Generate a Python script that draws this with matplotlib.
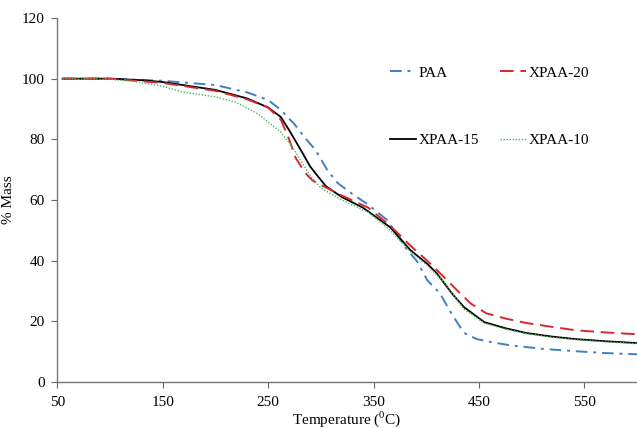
import matplotlib
matplotlib.use('Agg')
from matplotlib import pyplot as plt

plt.rcParams['font.family'] = ['Liberation Serif', 'DejaVu Serif']
plt.rcParams['mathtext.fontset'] = 'custom'
plt.rcParams['mathtext.rm'] = 'Liberation Serif'

# temperature (C) vs % mass
paa_x = [55, 100, 150, 200, 230, 250, 262, 275, 285, 295, 306, 316, 330, 345, 363,
         382, 391, 401, 413, 425, 436, 448, 465, 479, 510, 542, 570, 600]
paa_y = [100, 100, 99.3, 97.9, 95.5, 93, 89.7, 85, 80.5, 76.5, 70, 65.6, 62, 58.5, 53.4,
         43.5, 40, 33.6, 29.3, 22, 16.2, 14.2, 13, 12.2, 11, 10.2, 9.6, 9.2]

x20_x = [55, 100, 150, 200, 230, 250, 262, 270, 276, 285, 292, 300, 320, 345, 366,
         385, 401, 417, 430, 442, 457, 475, 495, 520, 542, 570, 600]
x20_y = [100, 100, 98.6, 96, 93.2, 90.5, 86.5, 80, 74, 69, 66.5, 65, 61.5, 57.5, 51.5,
         45, 40, 34.6, 30, 26, 22.7, 21, 19.5, 18.2, 17.1, 16.4, 15.8]

x15_x = [55, 100, 130, 150, 200, 230, 250, 262, 270, 281, 290, 298, 305, 320, 340, 366,
         385, 401, 410, 425, 436, 455, 475, 495, 520, 542, 570, 600]
x15_y = [100, 100, 99.5, 98.9, 96.3, 93.5, 90.5, 87.4, 83, 76.5, 71, 67.5, 64.5, 61, 57.5, 51,
         43.5, 39, 35.9, 29, 24.7, 19.8, 17.8, 16.2, 15, 14.2, 13.5, 12.9]

x10_x = [55, 100, 121, 150, 168, 200, 219, 240, 262, 272, 281, 290, 300, 320, 345, 366,
         385, 401, 417, 436, 455, 475, 495, 520, 542, 570, 600]
x10_y = [100, 99.8, 99.2, 97.5, 95.7, 94, 92.3, 88.5, 82.4, 78, 73, 68, 64, 60, 56, 50,
         43, 38.5, 33, 24, 19.5, 17.5, 16, 14.8, 14, 13.3, 12.7]

fig = plt.figure(figsize=(6.37, 4.28), dpi=100)
ax = fig.add_axes([0.09, 0.107, 0.91, 0.851])

# plot order chosen so the 2-col legend reads PAA / XPAA-20 on top row
ax.plot(paa_x, paa_y, color='#3f7fc4', lw=1.4, ls=(0, (6, 3, 1.5, 3)), label='PAA')
ax.plot(x15_x, x15_y, color='black', lw=1.3, label='XPAA-15')
ax.plot(x20_x, x20_y, color='#d42a2f', lw=1.4, ls=(0, (7, 3.5)), label='XPAA-20')
ax.plot(x10_x, x10_y, color='#4cb85a', lw=1.0, ls=(0, (1, 1.2)), label='XPAA-10')

ax.set_xlim(50, 600)
ax.set_ylim(0, 120)
ax.set_xticks([50, 150, 250, 350, 450, 550])
ax.set_yticks(range(0, 121, 20))
ax.tick_params(direction='out', length=4, color='#666666', labelsize=11, pad=5)
ax.tick_params(axis='x', pad=6)
for s in ['top', 'right']:
    ax.spines[s].set_visible(False)
for s in ['left', 'bottom']:
    ax.spines[s].set_color('#777777')
    ax.spines[s].set_linewidth(1.0)

ax.set_xlabel('Temperature ($^{0}$C)', fontsize=11, labelpad=0)
ax.set_ylabel('% Mass', fontsize=11, labelpad=5)

ax.legend(ncol=2, loc='upper left', bbox_to_anchor=(0.574, 0.868), frameon=False,
          fontsize=11, handlelength=1.7, handletextpad=0.15, labelspacing=3.5,
          columnspacing=1.4, borderpad=0, borderaxespad=0)

fig.savefig('out.png', dpi=100)
